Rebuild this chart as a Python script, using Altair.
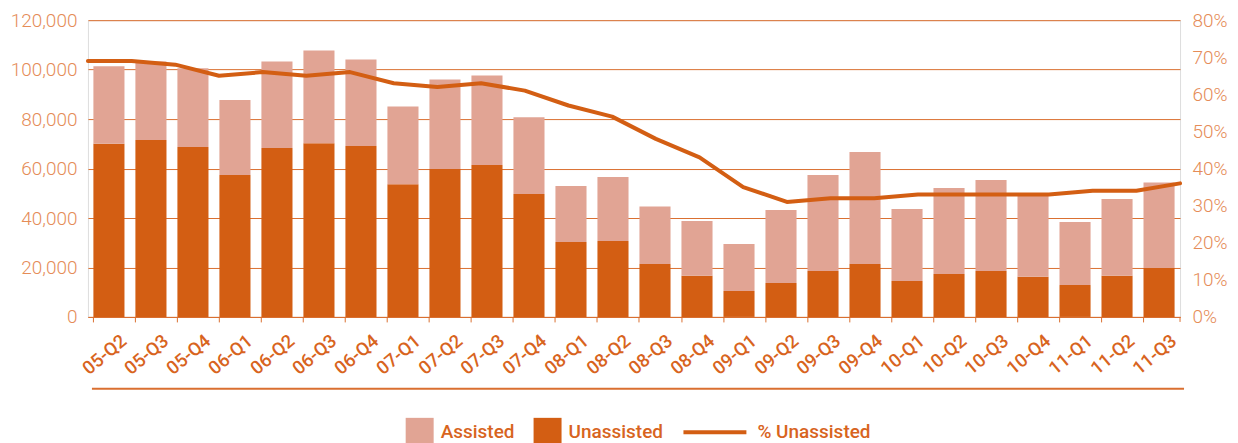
import altair as alt
import pandas as pd

quarters = ["05-Q2", "05-Q3", "05-Q4", "06-Q1", "06-Q2", "06-Q3", "06-Q4",
            "07-Q1", "07-Q2", "07-Q3", "07-Q4", "08-Q1", "08-Q2", "08-Q3",
            "08-Q4", "09-Q1", "09-Q2", "09-Q3", "09-Q4", "10-Q1", "10-Q2",
            "10-Q3", "10-Q4", "11-Q1", "11-Q2", "11-Q3"]
unassisted = [70000, 71500, 68700, 57400, 68300, 70200, 69100, 53700, 59800,
              61400, 49700, 30300, 30700, 21400, 16600, 10500, 13700, 18600,
              21400, 14500, 17400, 18600, 16200, 12900, 16600, 19800]
assisted = [31400, 31800, 31900, 30300, 35000, 37500, 35000, 31400, 36200,
            36200, 31000, 22600, 25900, 23300, 22200, 19000, 29500, 38800,
            45300, 29100, 34700, 36800, 33100, 25500, 31100, 34600]
pct_unassisted = [0.69, 0.69, 0.68, 0.65, 0.66, 0.65, 0.66, 0.63, 0.62, 0.63,
                  0.61, 0.57, 0.54, 0.48, 0.43, 0.35, 0.31, 0.32, 0.32, 0.33,
                  0.33, 0.33, 0.33, 0.34, 0.34, 0.36]
series_names = ["Assisted", "Unassisted"]
line_name = "% Unassisted"
left_ticks = [0, 20000, 40000, 60000, 80000, 100000, 120000]
right_ticks = [0, 0.1, 0.2, 0.3, 0.4, 0.5, 0.6, 0.7, 0.8]

rows = []
for q, u, a in zip(quarters, unassisted, assisted):
    rows.append({"quarter": q, "type": "Unassisted", "value": u, "order": 0})
    rows.append({"quarter": q, "type": "Assisted", "value": a, "order": 1})
bars_df = pd.DataFrame(rows)
line_df = pd.DataFrame({"quarter": quarters, "pct": pct_unassisted,
                        "series": [line_name] * len(quarters)})

W, H = 1093, 297
grid_color = "#da6f30"
axis_label = "#e58c58"
text_color = "#d8641e"
c_assisted = "#e1a494"
c_unassisted = "#d35e13"
med_font = "Roboto"

bars = alt.Chart(bars_df).mark_bar().encode(
    x=alt.X("quarter:N", sort=quarters,
            scale=alt.Scale(paddingInner=0.26, paddingOuter=0.13),
            axis=alt.Axis(title=None, labelAngle=-40, labelAlign="right",
                          labelBaseline="middle", bandPosition=0,
                          labelOffset=15, labelPadding=16, tickSize=5,
                          tickColor=grid_color, domainColor=grid_color,
                          labelColor=text_color, labelFont=med_font,
                          labelFontSize=18.5, labelFontWeight=500, grid=False,
                          labelOverlap=False, labelBound=False, labelFlush=False)),
    y=alt.Y("value:Q", stack="zero", scale=alt.Scale(domain=[0, 120000]),
            axis=alt.Axis(title=None, values=left_ticks, format=",.0f", grid=True,
                          gridColor=grid_color, domain=False, ticks=False,
                          labelPadding=11, labelColor=axis_label,
                          labelFont="Roboto", labelFontWeight=300,
                          labelFontSize=19)),
    color=alt.Color("type:N",
                    scale=alt.Scale(domain=series_names, range=[c_assisted, c_unassisted]),
                    legend=alt.Legend(title=None, orient="none", legendX=318, legendY=398,
                                      direction="horizontal", symbolType="square",
                                      symbolSize=784, symbolStrokeWidth=0,
                                      labelOffset=7, columnPadding=19, padding=0,
                                      labelFont=med_font, labelFontSize=19,
                                      labelFontWeight=500, labelColor=text_color)),
    order=alt.Order("order:Q"),
)

line = alt.Chart(line_df).mark_line(strokeWidth=4, strokeCap="round", strokeJoin="round").encode(
    x=alt.X("quarter:N", sort=quarters, scale=alt.Scale(type="point", padding=0), axis=None),
    y=alt.Y("pct:Q", scale=alt.Scale(domain=[0, 0.8]),
            axis=alt.Axis(title=None, orient="right", values=right_ticks, format=".0%",
                          grid=False, domain=False, ticks=False, labelPadding=12,
                          labelColor=axis_label, labelFont="Roboto",
                          labelFontWeight=300, labelFontSize=19)),
    stroke=alt.Stroke("series:N", scale=alt.Scale(domain=[line_name], range=[c_unassisted]),
                      legend=alt.Legend(title=None, orient="none", legendX=594, legendY=379,
                                        symbolType="stroke", symbolSize=3969,
                                        symbolStrokeWidth=4, labelOffset=9, padding=0,
                                        labelFont=med_font, labelFontSize=19,
                                        labelFontWeight=500, labelColor=text_color)),
)

dummy = pd.DataFrame({"k": [0]})
bottom_rule = alt.Chart(dummy).mark_rule(color=grid_color, strokeWidth=2).encode(
    x=alt.value(4), x2=alt.value(W + 4), y=alt.value(H + 72))
end_tick = alt.Chart(dummy).mark_rule(color=grid_color, strokeWidth=1).encode(
    x=alt.value(W), y=alt.value(H), y2=alt.value(H + 5))

chart = alt.layer(bars, line, bottom_rule, end_tick).resolve_scale(
    x="independent", y="independent", color="independent", stroke="independent"
).properties(
    width=W, height=H, autosize="none",
    padding={"left": 80, "top": 12, "right": 50, "bottom": 126},
).configure_view(stroke=None).configure(background="white")

chart.save("out.html", embed_options={"renderer": "svg", "actions": False})
